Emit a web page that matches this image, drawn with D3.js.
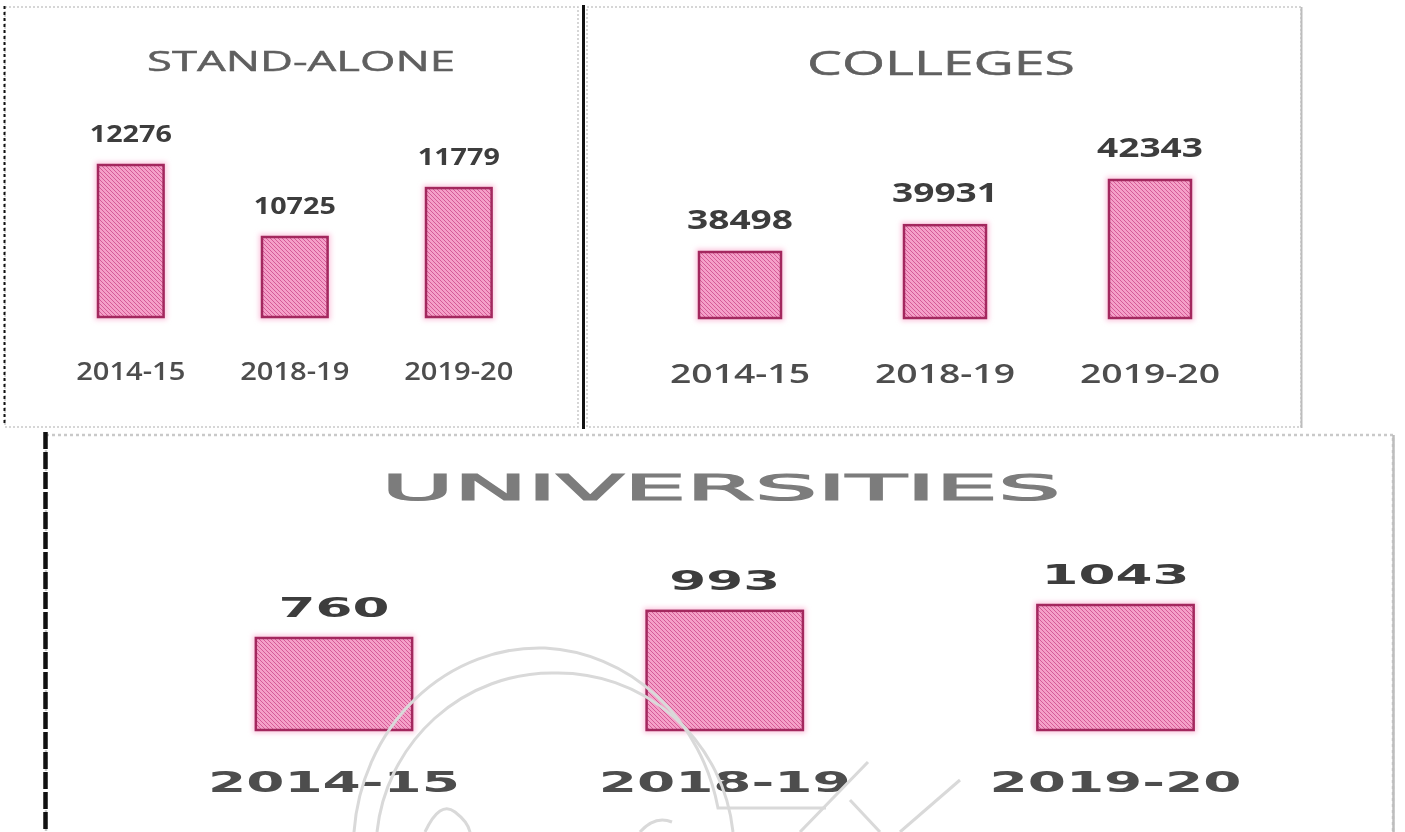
<!DOCTYPE html>
<html>
<head>
<meta charset="utf-8">
<script src="https://cdn.jsdelivr.net/npm/d3@7"></script>
<style>
  html, body { margin: 0; padding: 0; background: #ffffff; }
  svg { display: block; }
</style>
</head>
<body>
<svg id="chart" width="1405" height="832"></svg>
<script>
// ---------------- DATA ----------------
const categories = ["2014-15", "2018-19", "2019-20"];
const standAloneValues = [12276, 10725, 11779];
const collegeValues = [38498, 39931, 42343];
const universityValues = [760, 993, 1043];
const panelTitles = ["STAND-ALONE", "COLLEGES", "UNIVERSITIES"];
// lower end of each panel's value axis (the bars are not zero-based in the source)
const axisFloors = [9002, 34974, -29];

// ---------------- LAYOUT (not data) ----------------
const layouts = [
  { xRange: [48.8, 540.8], yRange: [317, 165],
    titleX: 301, titleY: 71, titleSize: 28, titleLen: 308, titleFont: "'Open Sans', sans-serif", titleWeight: 400, titleColor: "#5f5f5f", titleStroke: 0.5,
    valSize: 23, valCharW: 16.4, valGap: 23, valFont: "'Open Sans', sans-serif", valWeight: 700,
    catY: 380, catSize: 26, catCharW: 15.6, catFont: "'Open Sans', sans-serif", catWeight: 600 },
  { xRange: [637.5, 1252.5], yRange: [318, 180],
    titleX: 941, titleY: 75, titleSize: 33, titleLen: 268, titleFont: "'Open Sans', sans-serif", titleWeight: 400, titleColor: "#606060", titleStroke: 0.5,
    valSize: 26, valCharW: 21.2, valGap: 23, valFont: "'Open Sans', sans-serif", valWeight: 700,
    catY: 383, catSize: 27, catCharW: 20, catFont: "'Open Sans', sans-serif", catWeight: 600 },
  { xRange: [138.6, 1310.9], yRange: [730, 605],
    titleX: 721, titleY: 500, titleSize: 36, titleLen: 679, titleFont: "'DejaVu Sans', sans-serif", titleWeight: 400, titleColor: "#7c7c7c", titleStroke: 1.2,
    valSize: 27, valCharW: 37, valGap: 21, valFont: "'DejaVu Sans', sans-serif", valWeight: 700,
    catY: 792, catSize: 28, catCharW: 36, catFont: "'DejaVu Sans', sans-serif", catWeight: 700 }
];

const seriesList = [standAloneValues, collegeValues, universityValues];

const svg = d3.select("#chart");
const defs = svg.append("defs");

// hatch pattern for bars
const pat = defs.append("pattern")
  .attr("id", "hatch").attr("patternUnits", "userSpaceOnUse")
  .attr("width", 4).attr("height", 4);
pat.append("rect").attr("width", 4).attr("height", 4).attr("fill", "#f5a0c8");
pat.append("path")
  .attr("d", "M-1,-1 L5,5 M-1,3 L1,5 M3,-1 L5,1")
  .attr("stroke", "#d55c97").attr("stroke-width", 1);

const glow = defs.append("filter").attr("id", "glow")
  .attr("x", "-20%").attr("y", "-20%").attr("width", "140%").attr("height", "140%");
glow.append("feGaussianBlur").attr("stdDeviation", 2.5);

const soft = defs.append("filter").attr("id", "soft");
soft.append("feGaussianBlur").attr("stdDeviation", 0.6);

// ---------------- PANEL FRAMES ----------------
const frames = svg.append("g");
// stand-alone panel
frames.append("rect").attr("x", 5).attr("y", 7).attr("width", 573).attr("height", 420)
  .attr("fill", "none").attr("stroke", "#c9c9c9").attr("stroke-width", 1.5).attr("stroke-dasharray", "2,2");
frames.append("line").attr("x1", 4.5).attr("x2", 4.5).attr("y1", 6).attr("y2", 426)
  .attr("stroke", "#111").attr("stroke-width", 2).attr("stroke-dasharray", "3,3");
frames.append("line").attr("x1", 583.5).attr("x2", 583.5).attr("y1", 5).attr("y2", 429)
  .attr("stroke", "#111").attr("stroke-width", 3);
// colleges panel
frames.append("rect").attr("x", 587).attr("y", 7).attr("width", 714).attr("height", 420)
  .attr("fill", "none").attr("stroke", "#c9c9c9").attr("stroke-width", 1.5).attr("stroke-dasharray", "2,2");
frames.append("line").attr("x1", 1301.5).attr("x2", 1301.5).attr("y1", 7).attr("y2", 428)
  .attr("stroke", "#bdbdbd").attr("stroke-width", 2);
// universities panel
frames.append("rect").attr("x", 46).attr("y", 435).attr("width", 1347).attr("height", 420)
  .attr("fill", "none").attr("stroke", "#c9c9c9").attr("stroke-width", 2.5).attr("stroke-dasharray", "3,3");
frames.append("line").attr("x1", 1393.5).attr("x2", 1393.5).attr("y1", 435).attr("y2", 832)
  .attr("stroke", "#bdbdbd").attr("stroke-width", 2.5);
frames.append("line").attr("x1", 45.5).attr("x2", 45.5).attr("y1", 432).attr("y2", 832)
  .attr("stroke", "#111").attr("stroke-width", 4.5).attr("stroke-dasharray", "17,3");

// ---------------- PANELS ----------------
seriesList.forEach((values, i) => {
  const L = layouts[i];
  const g = svg.append("g");

  const x = d3.scaleBand().domain(categories).range(L.xRange)
    .paddingInner(0.6).paddingOuter(0.3);
  const y = d3.scaleLinear().domain([axisFloors[i], d3.max(values)]).range(L.yRange);

  // title
  g.append("text")
    .attr("x", L.titleX).attr("y", L.titleY)
    .attr("text-anchor", "middle")
    .attr("font-family", L.titleFont).attr("font-size", L.titleSize)
    .attr("font-weight", L.titleWeight)
    .attr("fill", L.titleColor)
    .attr("stroke", L.titleColor).attr("stroke-width", L.titleStroke)
    .attr("textLength", L.titleLen).attr("lengthAdjust", "spacingAndGlyphs")
    .attr("filter", "url(#soft)")
    .text(panelTitles[i]);

  // bar glow
  g.selectAll("rect.glow").data(values).join("rect")
    .attr("class", "glow")
    .attr("x", (d, j) => x(categories[j]))
    .attr("y", d => y(d))
    .attr("width", x.bandwidth())
    .attr("height", d => y.range()[0] - y(d))
    .attr("fill", "none").attr("stroke", "#fbc6de").attr("stroke-width", 6)
    .attr("filter", "url(#glow)");

  // bars
  g.selectAll("rect.bar").data(values).join("rect")
    .attr("class", "bar")
    .attr("x", (d, j) => x(categories[j]))
    .attr("y", d => y(d))
    .attr("width", x.bandwidth())
    .attr("height", d => y.range()[0] - y(d))
    .attr("fill", "url(#hatch)")
    .attr("stroke", "#a3285e").attr("stroke-width", 2.5);

  // value labels
  g.selectAll("text.val").data(values).join("text")
    .attr("class", "val")
    .attr("x", (d, j) => x(categories[j]) + x.bandwidth() / 2)
    .attr("y", d => y(d) - L.valGap)
    .attr("text-anchor", "middle")
    .attr("font-family", L.valFont).attr("font-size", L.valSize)
    .attr("font-weight", L.valWeight)
    .attr("fill", "#3c3c3c")
    .attr("textLength", d => String(d).length * L.valCharW)
    .attr("lengthAdjust", "spacingAndGlyphs")
    .attr("filter", "url(#soft)")
    .text(d => d);

  // category labels (x axis, no line/ticks)
  const axis = d3.axisBottom(x).tickSize(0).tickPadding(0);
  const ax = g.append("g").attr("transform", `translate(0,${L.catY})`).call(axis);
  ax.select(".domain").remove();
  ax.selectAll("text")
    .attr("dy", 0).attr("y", 0)
    .attr("font-family", L.catFont).attr("font-size", L.catSize)
    .attr("font-weight", L.catWeight)
    .attr("fill", "#4d4d4d")
    .attr("textLength", d => d.length * L.catCharW)
    .attr("lengthAdjust", "spacingAndGlyphs")
    .attr("filter", "url(#soft)");
});

// ---------------- WATERMARK (decoration) ----------------
const wm = svg.append("g").attr("fill", "none").attr("stroke", "#d9d9d9").attr("stroke-width", 3);
wm.append("path").attr("d", "M354,832 A186,200 0 0 1 545,648 A186,200 0 0 1 718,808 L826,808");
wm.append("path").attr("d", "M377,832 A176,178 0 0 1 553,673 A176,178 0 0 1 733,832");
wm.append("path").attr("d", "M425,832 Q440,800 455,812 Q468,822 470,832");
wm.append("path").attr("d", "M640,832 Q655,815 672,822");
wm.append("path").attr("d", "M868,762 L800,832 M880,832 L850,800 M900,832 L960,780");
</script>
</body>
</html>
